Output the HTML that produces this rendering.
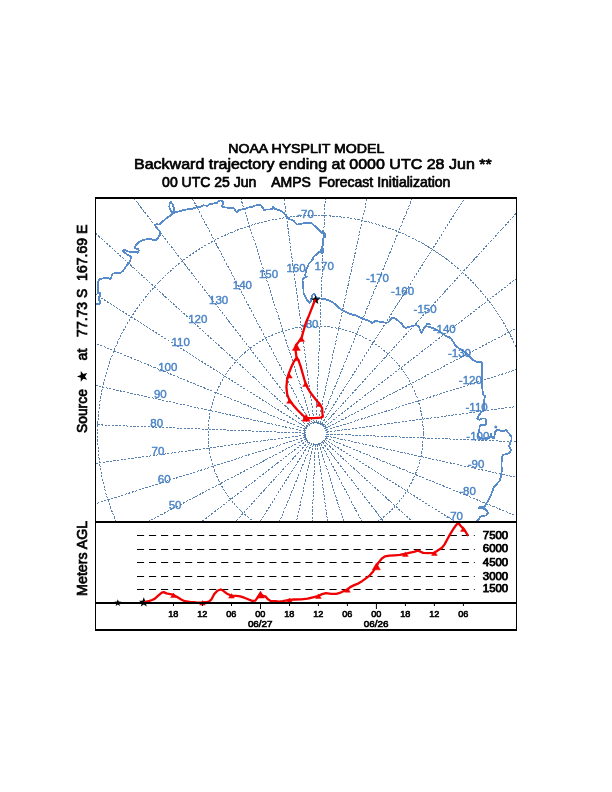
<!DOCTYPE html>
<html><head><meta charset="utf-8"><title>NOAA HYSPLIT MODEL</title>
<style>html,body{margin:0;padding:0;background:#fff}svg{display:block}text{font-family:"Liberation Sans",sans-serif}</style></head><body>
<svg width="612" height="792" viewBox="0 0 612 792">
<rect width="612" height="792" fill="#fff"/>
<g fill="#000" stroke="#000" stroke-width="0.7" stroke-linejoin="round">
<text x="228.2" y="153.1" font-size="13.3" textLength="156.2" lengthAdjust="spacingAndGlyphs">NOAA HYSPLIT MODEL</text>
<text x="134.0" y="169.4" font-size="15.4" textLength="357.7" lengthAdjust="spacingAndGlyphs">Backward trajectory ending at 0000 UTC 28 Jun **</text>
<text x="162.1" y="186.75" font-size="13.9" textLength="288.3" lengthAdjust="spacingAndGlyphs" xml:space="preserve">00 UTC 25 Jun    AMPS  Forecast Initialization</text>
</g>
<defs><clipPath id="mapclip"><rect x="96" y="199" width="420" height="322"/></clipPath></defs>
<g clip-path="url(#mapclip)">
<g fill="none" stroke="#5a80ad" stroke-width="1" stroke-dasharray="2.3 1.3" shape-rendering="crispEdges">
<circle cx="315.7" cy="433.6" r="107.6"/>
<circle cx="315.7" cy="433.6" r="218.1"/>
<circle cx="315.7" cy="433.6" r="333.0"/>
<circle cx="315.7" cy="433.6" r="11.0" stroke-dasharray="1.7 0.6" stroke-width="1.7"/>
<line x1="318.05" y1="422.85" x2="405.24" y2="23.26"/>
<line x1="319.88" y1="423.42" x2="475.14" y2="45.04"/>
<line x1="321.58" y1="424.30" x2="540.19" y2="78.63"/>
<line x1="323.10" y1="425.47" x2="598.42" y2="123.00"/>
<line x1="324.40" y1="426.87" x2="648.06" y2="176.82"/>
<line x1="325.44" y1="428.49" x2="687.60" y2="238.43"/>
<line x1="326.18" y1="430.26" x2="715.84" y2="305.98"/>
<line x1="326.60" y1="432.13" x2="731.92" y2="377.40"/>
<line x1="326.69" y1="434.04" x2="735.36" y2="450.53"/>
<line x1="326.45" y1="435.95" x2="726.04" y2="523.14"/>
<line x1="325.88" y1="437.78" x2="704.26" y2="593.04"/>
<line x1="325.00" y1="439.48" x2="670.67" y2="658.09"/>
<line x1="323.83" y1="441.00" x2="626.30" y2="716.32"/>
<line x1="322.43" y1="442.30" x2="572.48" y2="765.96"/>
<line x1="320.81" y1="443.34" x2="510.87" y2="805.50"/>
<line x1="319.04" y1="444.08" x2="443.32" y2="833.74"/>
<line x1="317.17" y1="444.50" x2="371.90" y2="849.82"/>
<line x1="315.26" y1="444.59" x2="298.77" y2="853.26"/>
<line x1="313.35" y1="444.35" x2="226.16" y2="843.94"/>
<line x1="311.52" y1="443.78" x2="156.26" y2="822.16"/>
<line x1="309.82" y1="442.90" x2="91.21" y2="788.57"/>
<line x1="308.30" y1="441.73" x2="32.98" y2="744.20"/>
<line x1="307.00" y1="440.33" x2="-16.66" y2="690.38"/>
<line x1="305.96" y1="438.71" x2="-56.20" y2="628.77"/>
<line x1="305.22" y1="436.94" x2="-84.44" y2="561.22"/>
<line x1="304.80" y1="435.07" x2="-100.52" y2="489.80"/>
<line x1="304.71" y1="433.16" x2="-103.96" y2="416.67"/>
<line x1="304.95" y1="431.25" x2="-94.64" y2="344.06"/>
<line x1="305.52" y1="429.42" x2="-72.86" y2="274.16"/>
<line x1="306.40" y1="427.72" x2="-39.27" y2="209.11"/>
<line x1="307.57" y1="426.20" x2="5.10" y2="150.88"/>
<line x1="308.97" y1="424.90" x2="58.92" y2="101.24"/>
<line x1="310.59" y1="423.86" x2="120.53" y2="61.70"/>
<line x1="312.36" y1="423.12" x2="188.08" y2="33.46"/>
<line x1="314.23" y1="422.70" x2="259.50" y2="17.38"/>
<line x1="316.14" y1="422.61" x2="332.63" y2="13.94"/>
</g>
<path d="M95.9 304.2 L98.5 304.2 L100.2 303.6 L100.2 300.9 L98.9 300.3 L98.9 297.7 L100.4 296.4 L100.2 293.1 L98.2 293.1 L98.0 291.1 L97.9 286.6 L98.2 282.0 L99.2 279.1 L101.8 278.7 L105.1 277.7 L107.7 277.7 L109.6 279.1 L111.3 278.4 L111.6 275.5 L112.9 273.5 L116.8 273.2 L121.1 272.6 L123.6 270.2 L125.4 267.4 L127.9 264.1 L130.4 260.4 L131.0 256.6 L128.5 255.4 L124.8 252.9 L122.6 250.7 L124.2 249.8 L127.9 251.4 L131.6 252.3 L134.8 251.7 L137.2 252.7 L138.7 251.0 L138.5 249.2 L136.6 248.6 L135.0 248.2 L135.4 246.1 L136.6 244.2 L139.1 242.0 L142.8 240.2 L147.2 239.0 L150.3 238.6 L152.8 239.9 L155.9 239.9 L158.4 237.4 L160.2 234.3 L159.6 231.2 L157.7 229.3 L156.5 227.4 L155.2 225.3 L156.5 224.1 L159.0 224.6 L160.6 223.5 L163.7 220.6 L167.5 217.5 L171.2 215.0 L173.0 213.1 L170.6 210.7 L169.3 206.9 L169.7 203.2 L170.6 201.7 L172.4 203.8 L173.9 207.6 L174.3 210.7 L173.0 213.1 L177.4 211.9 L182.4 210.4 L187.3 209.4 L192.3 208.8 L196.0 207.6 L199.8 206.9 L203.5 205.4 L207.8 205.7 L209.7 204.2 L213.4 203.5 L217.1 203.0 L218.4 201.0 L220.9 200.5 L223.1 201.3 L223.4 203.8 L222.1 205.9 L223.4 207.2 L227.1 207.6 L231.4 208.2 L234.3 208.4 L235.9 211.3 L237.4 211.9 L238.7 210.0 L242.4 209.4 L245.5 208.8 L248.0 207.6 L251.7 206.9 L254.8 205.7 L257.9 204.7 L261.0 205.4 L262.9 208.2 L264.1 210.4 L266.0 209.4 L269.7 209.4 L272.4 209.2 L272.8 206.9 L274.7 208.8 L278.4 210.0 L281.5 211.3 L284.0 213.1 L285.9 215.6 L287.7 218.1 L290.2 219.4 L293.5 220.6 L295.4 223.1 L297.2 224.6 L300.5 223.8 L304.8 223.1 L309.2 222.8 L311.7 223.3 L314.2 225.6 L317.3 228.1 L319.8 230.5 L322.2 233.3 L322.9 231.2 L325.3 234.3 L325.0 237.4 L323.5 237.0 L323.2 239.2 L322.9 244.2 L322.2 247.3 L323.2 248.6 L323.5 251.7 L321.6 252.9 L320.4 251.0 L322.2 247.3 L320.4 251.0 L318.5 252.3 L316.0 254.8 L313.5 257.2 L312.5 259.6 L310.4 262.0 L308.8 263.6 L307.8 266.4 L306.4 269.6 L305.5 273.6 L304.6 275.5 L306.7 276.7 L303.6 278.0 L302.4 279.8 L303.0 283.6 L303.4 288.5 L303.6 293.5 L305.5 297.2 L307.3 300.3 L309.2 302.8 L310.8 301.0 L311.7 297.2 L312.5 294.8 L314.2 294.1 L315.4 296.0 L317.3 297.9 L321.0 298.5 L324.7 299.1 L328.4 300.3 L332.2 302.2 L335.9 304.7 L339.0 307.8 L342.1 310.3 L345.4 311.9 L348.7 313.3 L352.5 314.8 L356.2 315.4 L359.9 317.5 L363.6 318.8 L367.4 320.4 L370.5 322.0 L372.3 322.9 L375.4 321.0 L379.2 321.6 L382.9 322.0 L386.0 322.9 L388.5 322.3 L390.3 319.8 L392.8 317.5 L395.3 318.5 L398.4 321.0 L401.5 323.5 L403.4 326.6 L405.9 327.9 L408.9 327.0 L412.5 325.8 L416.2 325.3 L418.7 326.3 L419.9 329.8 L421.5 332.9 L423.0 330.4 L424.3 327.3 L426.1 326.1 L429.8 327.0 L433.6 328.3 L436.1 329.8 L439.2 331.0 L442.3 333.5 L445.4 335.7 L449.1 337.2 L451.6 339.1 L453.4 342.2 L455.3 345.3 L458.5 348.0 L462.4 350.5 L466.7 353.7 L469.8 356.8 L473.0 359.9 L476.1 361.8 L479.8 362.3 L481.6 362.0 L481.6 367.4 L481.6 373.6 L481.9 379.8 L482.0 386.0 L482.6 391.0 L483.3 394.7 L485.4 396.6 L484.5 398.4 L483.8 402.1 L484.1 405.9 L484.4 409.2 L483.2 410.6 L481.0 412.5 L478.5 415.6 L477.0 418.7 L479.2 419.7 L482.3 418.4 L485.4 418.4 L486.0 421.1 L485.7 424.9 L482.3 425.1 L479.8 425.5 L479.5 428.6 L479.2 431.7 L477.5 434.2 L479.2 437.5 L482.3 438.8 L486.0 438.3 L489.1 438.5 L490.7 436.1 L491.0 434.2 L492.0 437.5 L494.1 437.9 L494.7 434.8 L495.3 431.7 L497.2 429.8 L500.3 430.5 L502.1 431.7 L504.6 430.5 L506.5 429.8 L507.7 432.3 L509.6 434.2 L511.5 436.7 L511.5 440.4 L510.2 442.9 L509.0 446.0 L510.2 447.9 L510.8 450.3 L509.6 452.8 L506.5 454.1 L502.8 454.9 L501.9 458.4 L501.5 463.4 L501.7 469.9 L501.5 473.6 L500.7 478.0 L499.0 481.7 L496.6 484.2 L494.1 486.7 L492.8 490.4 L491.0 494.8 L489.1 498.5 L487.2 502.2 L485.4 505.3 L484.1 507.2 L479.2 507.2 L479.2 508.4 L484.8 508.7 L486.6 510.3 L487.9 512.8 L486.6 515.2 L483.5 515.9 L480.4 516.5 L479.2 519.0 L477.3 520.6 L476.0 522.5" fill="none" stroke="#588bc9" stroke-width="1.8" stroke-linejoin="round" shape-rendering="crispEdges"/>
<path d="M426.1 323.9 L431.3 324.3" fill="none" stroke="#588bc9" stroke-width="1.4" shape-rendering="crispEdges"/>
<circle cx="495.8" cy="427.1" r="1.5" fill="#588bc9"/>
<g fill="#4a84c6" stroke="#4a84c6" stroke-width="0.4" font-size="11.3" text-anchor="middle">
<text transform="translate(175.1 508.8) scale(1.02 1)">50</text>
<text transform="translate(164.2 482.6) scale(1.02 1)">60</text>
<text transform="translate(158.0 454.9) scale(1.02 1)">70</text>
<text transform="translate(156.7 426.5) scale(1.02 1)">80</text>
<text transform="translate(160.3 398.3) scale(1.02 1)">90</text>
<text transform="translate(167.8 371.2) scale(1.02 1)">100</text>
<text transform="translate(180.7 346.0) scale(1.02 1)">110</text>
<text transform="translate(197.8 323.4) scale(1.02 1)">120</text>
<text transform="translate(218.6 304.1) scale(1.02 1)">130</text>
<text transform="translate(242.4 288.8) scale(1.02 1)">140</text>
<text transform="translate(268.5 277.8) scale(1.02 1)">150</text>
<text transform="translate(296.0 271.6) scale(1.02 1)">160</text>
<text transform="translate(324.2 270.2) scale(1.02 1)">170</text>
<text transform="translate(377.5 282.3) scale(1.02 1)">-170</text>
<text transform="translate(402.6 295.3) scale(1.02 1)">-160</text>
<text transform="translate(425.1 312.6) scale(1.02 1)">-150</text>
<text transform="translate(444.2 333.4) scale(1.02 1)">-140</text>
<text transform="translate(459.5 357.4) scale(1.02 1)">-130</text>
<text transform="translate(470.4 383.6) scale(1.02 1)">-120</text>
<text transform="translate(476.6 411.3) scale(1.02 1)">-110</text>
<text transform="translate(477.9 439.7) scale(1.02 1)">-100</text>
<text transform="translate(476.0 467.9) scale(1.02 1)">-90</text>
<text transform="translate(467.6 495.0) scale(1.02 1)">-80</text>
<text transform="translate(454.7 520.2) scale(1.02 1)">-70</text>
<text transform="translate(310.2 327.9) scale(1.02 1)">-80</text>
<text transform="translate(305.6 218.3) scale(1.02 1)">-70</text>
</g>
<path d="M315.5 294.9 L316.7 298.2 L320.3 298.4 L317.5 300.5 L318.4 303.9 L315.5 302.0 L312.6 303.9 L313.5 300.5 L310.7 298.4 L314.3 298.2 Z" fill="#000"/>
<path d="M315.3 299.3 L309.3 314.7 L305.9 322.8 L303.0 332.5 L301.9 336.9 L299.0 341.4 L295.8 345.5 L295.6 350.6 L296.2 355.2 L296.7 358.0 L293.9 361.5 L291.0 367.8 L288.2 375.2 L287.0 380.5 L286.4 387.4 L287.2 394.3 L289.3 399.8 L293.3 405.3 L297.9 410.5 L302.5 415.0 L305.6 418.0 L313.9 418.2 L320.8 417.6 L322.8 416.6 L322.5 413.9 L322.1 408.2 L320.2 404.7 L316.4 400.2 L313.2 396.2 L310.0 392.0 L307.3 387.4 L305.0 381.7 L303.0 374.8 L300.7 366.6 L298.5 360.3 L296.7 358.0" fill="none" stroke="#f00000" stroke-width="2.3" stroke-linejoin="round" stroke-linecap="butt"/>
<path d="M301.6 336.9 L304.5 341.4 L298.7 341.4 Z" fill="#f00000" stroke="#f00000" stroke-width="0.5" stroke-linejoin="round"/>
<path d="M296.7 356.1 L299.6 360.6 L293.8 360.6 Z" fill="#f00000" stroke="#f00000" stroke-width="0.5" stroke-linejoin="round"/>
<path d="M289.4 373.5 L292.3 378.0 L286.5 378.0 Z" fill="#f00000" stroke="#f00000" stroke-width="0.5" stroke-linejoin="round"/>
<path d="M289.6 398.8 L292.5 403.3 L286.7 403.3 Z" fill="#f00000" stroke="#f00000" stroke-width="0.5" stroke-linejoin="round"/>
<path d="M305.6 381.9 L308.5 386.4 L302.7 386.4 Z" fill="#f00000" stroke="#f00000" stroke-width="0.5" stroke-linejoin="round"/>
<path d="M319.0 401.9 L321.9 406.4 L316.1 406.4 Z" fill="#f00000" stroke="#f00000" stroke-width="0.5" stroke-linejoin="round"/>
<path d="M296.3 343.5 L300.3 350.4 L292.3 350.4 Z" fill="#f00000" stroke="#f00000" stroke-width="0.5" stroke-linejoin="round"/>
<path d="M306.1 414.3 L310.1 421.2 L302.1 421.2 Z" fill="#f00000" stroke="#f00000" stroke-width="0.5" stroke-linejoin="round"/>
</g>
<g stroke="#000" stroke-width="1" stroke-dasharray="7.1 4.93">
<line x1="137" y1="535.5" x2="474.8" y2="535.5"/>
<line x1="137" y1="549.5" x2="474.8" y2="549.5"/>
<line x1="137" y1="562.5" x2="474.8" y2="562.5"/>
<line x1="137" y1="576.5" x2="474.8" y2="576.5"/>
<line x1="137" y1="589.5" x2="474.8" y2="589.5"/>
</g>
<path d="M143.8 597.3 L145.1 600.7 L148.7 600.8 L145.8 603.1 L146.8 606.5 L143.8 604.5 L140.8 606.5 L141.8 603.1 L138.9 600.8 L142.5 600.7 Z" fill="#000"/>
<path d="M143.9 602.6 L148.1 601.3 L152.0 600.0 L154.6 598.9 L158.5 595.4 L161.8 592.7 L163.8 592.1 L166.4 593.4 L170.3 594.1 L172.9 594.7 L176.8 596.7 L180.8 599.3 L184.7 601.2 L189.9 601.9 L196.4 602.4 L201.7 602.6 L206.9 602.0 L208.9 601.6 L211.5 599.3 L214.2 594.1 L217.4 590.8 L220.7 589.5 L223.3 590.8 L226.6 593.4 L229.8 595.1 L231.8 595.6 L236.4 595.8 L240.3 596.4 L244.2 597.7 L248.1 599.3 L252.1 600.9 L255.3 600.6 L257.3 598.0 L259.9 594.1 L263.2 595.8 L265.8 596.7 L267.7 599.0 L270.4 600.9 L275.6 601.2 L278.9 601.6 L282.8 601.2 L289.4 599.9 L294.6 599.5 L301.1 599.3 L307.7 598.6 L312.9 597.3 L318.1 596.0 L322.1 594.1 L326.0 593.1 L331.2 593.8 L336.4 593.8 L340.4 592.7 L344.3 590.8 L347.5 589.6 L350.2 587.1 L354.2 585.1 L358.1 583.6 L362.0 581.2 L365.9 578.3 L369.8 575.3 L373.1 571.4 L375.7 567.5 L378.3 562.9 L381.6 558.7 L384.9 556.4 L389.4 555.7 L394.7 555.3 L399.9 554.8 L404.5 554.0 L409.1 552.9 L413.9 551.9 L417.8 550.7 L420.6 551.7 L423.1 552.9 L428.3 553.2 L434.2 552.9 L438.1 550.3 L442.0 547.7 L444.6 544.4 L447.3 539.2 L449.9 534.6 L453.1 529.4 L455.8 525.5 L458.4 522.6 L460.3 525.5 L462.9 528.1 L464.9 530.7 L466.9 534.0 L468.2 535.9" fill="none" stroke="#f00000" stroke-width="2.3" stroke-linejoin="round" stroke-linecap="butt"/>
<path d="M173.5 593.1 L176.4 597.6 L170.6 597.6 Z" fill="#f00000" stroke="#f00000" stroke-width="0.5" stroke-linejoin="round"/>
<path d="M202.5 600.6 L205.4 605.1 L199.6 605.1 Z" fill="#f00000" stroke="#f00000" stroke-width="0.5" stroke-linejoin="round"/>
<path d="M231.5 593.6 L234.4 598.1 L228.6 598.1 Z" fill="#f00000" stroke="#f00000" stroke-width="0.5" stroke-linejoin="round"/>
<path d="M260.5 591.1 L264.5 598.0 L256.5 598.0 Z" fill="#f00000" stroke="#f00000" stroke-width="0.5" stroke-linejoin="round"/>
<path d="M289.5 598.0 L292.4 602.5 L286.6 602.5 Z" fill="#f00000" stroke="#f00000" stroke-width="0.5" stroke-linejoin="round"/>
<path d="M318.4 593.9 L321.3 598.4 L315.6 598.4 Z" fill="#f00000" stroke="#f00000" stroke-width="0.5" stroke-linejoin="round"/>
<path d="M347.4 587.7 L350.3 592.2 L344.5 592.2 Z" fill="#f00000" stroke="#f00000" stroke-width="0.5" stroke-linejoin="round"/>
<path d="M376.4 562.9 L380.4 569.8 L372.4 569.8 Z" fill="#f00000" stroke="#f00000" stroke-width="0.5" stroke-linejoin="round"/>
<path d="M405.4 551.9 L408.3 556.4 L402.5 556.4 Z" fill="#f00000" stroke="#f00000" stroke-width="0.5" stroke-linejoin="round"/>
<path d="M434.4 550.9 L437.3 555.4 L431.5 555.4 Z" fill="#f00000" stroke="#f00000" stroke-width="0.5" stroke-linejoin="round"/>
<path d="M463.4 526.9 L466.3 531.4 L460.5 531.4 Z" fill="#f00000" stroke="#f00000" stroke-width="0.5" stroke-linejoin="round"/>
<g fill="#000">
<rect x="95" y="197" width="422" height="2"/>
<rect x="95" y="521" width="422" height="2"/>
<rect x="95" y="602" width="422" height="2"/>
<rect x="95" y="629" width="422" height="2"/>
<rect x="95" y="197" width="1" height="434"/>
<rect x="516" y="197" width="1" height="434"/>
</g>
<g fill="#000" stroke="#000" stroke-width="0.6" font-size="9.1" text-anchor="middle">
<rect x="173.0" y="604" width="1" height="2" stroke="none"/>
<text x="173.3" y="616.6">18</text>
<rect x="202.0" y="604" width="1" height="2" stroke="none"/>
<text x="202.3" y="616.6">12</text>
<rect x="231.0" y="604" width="1" height="2" stroke="none"/>
<text x="231.3" y="616.6">06</text>
<rect x="260.0" y="604" width="1" height="5" stroke="none"/>
<text x="260.3" y="616.6">00</text>
<rect x="289.0" y="604" width="1" height="2" stroke="none"/>
<text x="289.3" y="616.6">18</text>
<rect x="317.9" y="604" width="1" height="2" stroke="none"/>
<text x="318.2" y="616.6">12</text>
<rect x="346.9" y="604" width="1" height="2" stroke="none"/>
<text x="347.2" y="616.6">06</text>
<rect x="375.9" y="604" width="1" height="5" stroke="none"/>
<text x="376.2" y="616.6">00</text>
<rect x="404.9" y="604" width="1" height="2" stroke="none"/>
<text x="405.2" y="616.6">18</text>
<rect x="433.9" y="604" width="1" height="2" stroke="none"/>
<text x="434.2" y="616.6">12</text>
<rect x="462.9" y="604" width="1" height="2" stroke="none"/>
<text x="463.2" y="616.6">06</text>
<text x="260.2" y="626.8" textLength="24.6" lengthAdjust="spacingAndGlyphs">06/27</text>
<text x="376.1" y="626.8" textLength="24.6" lengthAdjust="spacingAndGlyphs">06/26</text>
</g>
<g fill="#000" stroke="#000" stroke-width="0.75" font-size="10.1" text-anchor="start">
<text x="482.8" y="538.6" textLength="25.4" lengthAdjust="spacingAndGlyphs">7500</text>
<text x="482.8" y="552.4" textLength="25.4" lengthAdjust="spacingAndGlyphs">6000</text>
<text x="482.8" y="565.7" textLength="25.4" lengthAdjust="spacingAndGlyphs">4500</text>
<text x="482.8" y="579.5" textLength="25.4" lengthAdjust="spacingAndGlyphs">3000</text>
<text x="482.8" y="592.3" textLength="25.4" lengthAdjust="spacingAndGlyphs">1500</text>
</g>
<path d="M117.8 599.2 L118.7 601.6 L121.3 601.8 L119.3 603.4 L120.0 605.9 L117.8 604.5 L115.6 605.9 L116.3 603.4 L114.3 601.8 L116.9 601.6 Z" fill="#000"/>
<g fill="#000" stroke="#000" stroke-width="0.7" font-size="13.9">
<text transform="translate(87.0 433.1) rotate(-90)" textLength="44.0" lengthAdjust="spacingAndGlyphs">Source</text>
<text transform="translate(87.0 360.4) rotate(-90)" textLength="11.8" lengthAdjust="spacingAndGlyphs">at</text>
<text transform="translate(87.0 336.9) rotate(-90)" textLength="48.2" lengthAdjust="spacingAndGlyphs">77.73 S</text>
<text transform="translate(87.0 280.9) rotate(-90)" textLength="56.3" lengthAdjust="spacingAndGlyphs">167.69 E</text>
<text transform="translate(87.0 595.9) rotate(-90)" textLength="75.2" lengthAdjust="spacingAndGlyphs">Meters AGL</text>
</g>
<path d="M76.9 376.4 L80.7 375.0 L80.8 371.0 L83.3 374.1 L87.2 373.0 L85.0 376.4 L87.2 379.8 L83.3 378.7 L80.8 381.8 L80.7 377.8 Z" fill="#000"/>
</svg></body></html>
